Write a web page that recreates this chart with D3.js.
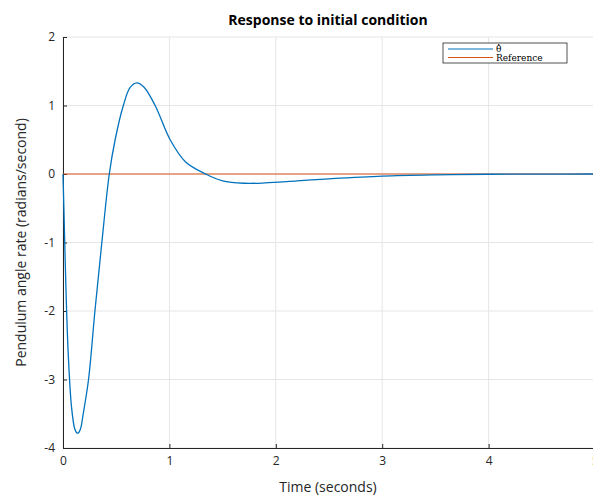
<!DOCTYPE html>
<html>
  <head>
    <title>Response to initial condition</title>
    <script src="https://d3js.org/d3.v7.min.js"></script>
    <style>
      body { margin: 0; background: #fff; }
      text { font-family: "Open Sans", "DejaVu Sans", sans-serif; }
    </style>
  </head>
  <body>
    <div id="chart"></div>
    <script>
      // time samples (seconds) and pendulum angle rate
      var time = [0, 0.01, 0.03, 0.05, 0.08, 0.11, 0.13, 0.145, 0.165, 0.19, 0.24, 0.30, 0.365, 0.435, 0.49, 0.567, 0.63, 0.693, 0.76, 0.866, 1.007, 1.15, 1.34, 1.5, 1.7, 1.9, 2.2, 2.5, 3.0, 3.5, 4.0, 4.5, 5.0];
      var rate = [0, -0.6, -1.8, -2.65, -3.4, -3.72, -3.78, -3.78, -3.72, -3.5, -3.0, -2.0, -1.0, 0, 0.5, 1.0, 1.26, 1.33, 1.27, 1.0, 0.5, 0.18, 0, -0.1, -0.135, -0.13, -0.1, -0.07, -0.03, -0.012, -0.004, -0.001, 0];
      var reference = [0, 0];
      var refTime = [0, 5];
      var xTicks = [0, 1, 2, 3, 4, 5];
      var yTicks = [-4, -3, -2, -1, 0, 1, 2];
      var legendLabels = ["\u03B8", "Reference"];

      var width = 593, height = 497;
      var mLeft = 63, mRight = 595, mTop = 37, mBottom = 448;

      var svg = d3.select("#chart").append("svg")
        .attr("width", width)
        .attr("height", height);

      var x = d3.scaleLinear().domain([0, 5]).range([mLeft, mRight]);
      var y = d3.scaleLinear().domain([-4, 2]).range([mBottom, mTop]);

      // grid
      svg.append("g").selectAll("line").data(xTicks).enter().append("line")
        .attr("x1", function(d) { return x(d); })
        .attr("x2", function(d) { return x(d); })
        .attr("y1", mTop).attr("y2", mBottom)
        .attr("stroke", "#e6e6e6");
      svg.append("g").selectAll("line").data(yTicks).enter().append("line")
        .attr("x1", mLeft).attr("x2", mRight)
        .attr("y1", function(d) { return y(d); })
        .attr("y2", function(d) { return y(d); })
        .attr("stroke", "#e6e6e6");

      // axes
      var xAxis = svg.append("g")
        .attr("transform", "translate(0," + mBottom + ")")
        .call(d3.axisBottom(x).tickValues(xTicks).tickFormat(d3.format("d")).tickSize(-4).tickPadding(8));
      var yAxis = svg.append("g")
        .attr("transform", "translate(" + mLeft + ",0)")
        .call(d3.axisLeft(y).tickValues(yTicks).tickFormat(d3.format("d")).tickSize(-4).tickPadding(8));
      [xAxis, yAxis].forEach(function(a) {
        a.select(".domain").attr("stroke", "#262626");
        a.selectAll(".tick line").attr("stroke", "#262626");
        a.selectAll(".tick text").attr("fill", "#262626")
          .style("font-size", "12px")
          .style("font-family", "'Open Sans', sans-serif");
      });
      yAxis.selectAll(".tick text").text(function(d) { return d < 0 ? "-" + Math.abs(d) : d; });

      // lines
      var line = d3.line()
        .x(function(d) { return x(d[0]); })
        .y(function(d) { return y(d[1]); })
        .curve(d3.curveCatmullRom.alpha(0.5));

      svg.append("path")
        .datum(d3.zip(refTime, reference))
        .attr("d", line)
        .attr("fill", "none")
        .attr("stroke", "#D95319")
        .attr("stroke-width", 1);

      svg.append("path")
        .datum(d3.zip(time, rate))
        .attr("d", line)
        .attr("fill", "none")
        .attr("stroke", "#0072BD")
        .attr("stroke-width", 1.3);

      // title and labels
      svg.append("text")
        .attr("x", 328).attr("y", 25)
        .attr("text-anchor", "middle")
        .style("font-size", "14px")
        .style("font-weight", "bold")
        .attr("fill", "#000")
        .text("Response to initial condition");

      svg.append("text")
        .attr("x", 328).attr("y", 492)
        .attr("text-anchor", "middle")
        .style("font-size", "14px")
        .attr("fill", "#262626")
        .text("Time (seconds)");

      svg.append("text")
        .attr("transform", "translate(26," + ((mTop + mBottom) / 2) + ") rotate(-90)")
        .attr("text-anchor", "middle")
        .style("font-size", "14px")
        .attr("fill", "#262626")
        .text("Pendulum angle rate (radians/second)");

      // legend
      var lg = svg.append("g").attr("transform", "translate(443,43)");
      lg.append("rect")
        .attr("width", 124).attr("height", 20)
        .attr("fill", "#fff")
        .attr("stroke", "#262626")
        .attr("stroke-width", 0.8);
      var colors = ["#0072BD", "#D95319"];
      legendLabels.forEach(function(label, i) {
        var yy = 6 + i * 8.5;
        lg.append("line")
          .attr("x1", 5).attr("x2", 50)
          .attr("y1", yy).attr("y2", yy)
          .attr("stroke", colors[i]);
        lg.append("text")
          .attr("x", 53).attr("y", yy + 3)
          .style("font-family", "'DejaVu Serif', 'Liberation Serif', serif")
          .style("font-size", "9px")
          .attr("fill", "#000")
          .text(label);
      });
      // dot accent over theta
      lg.append("circle")
        .attr("cx", 55.8).attr("cy", 1.8)
        .attr("r", 0.7)
        .attr("fill", "#000");
    </script>
  </body>
</html>
